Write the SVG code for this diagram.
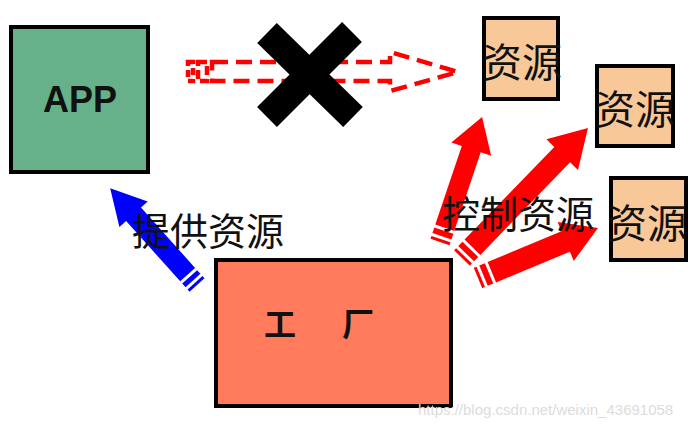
<svg xmlns="http://www.w3.org/2000/svg" width="700" height="428" viewBox="0 0 700 428">
<style>
.box{stroke:#000;stroke-width:4}
.cjk{font-family:"Noto Sans CJK SC","Noto Sans",sans-serif;fill:#111}
.res{font-size:40px;text-anchor:middle}
.lbl{font-size:38px}
.red{fill:#ff0000}
.blue{fill:#0000ff}
</style>
<rect width="700" height="428" fill="#fff"/>
<g id="connectors">
  <g id="dashed-arrow" fill="none" stroke="#ff0000" stroke-width="4.5" stroke-dasharray="16 8">
    <rect x="188" y="62" width="5" height="19" stroke-dasharray="7 4"/>
    <rect x="198" y="62" width="9" height="19" stroke-dasharray="9 4"/>
    <path d="M212,62 H390 V52 L458,72 L390,91 V81 H212 Z"/>
  </g>
  <g id="cross" stroke="#000" stroke-width="28">
    <line x1="267" y1="33" x2="353" y2="117"/>
    <line x1="352" y1="32" x2="267" y2="117"/>
  </g>
  <g id="blue-arrow" class="blue" transform="translate(197,285) rotate(228.1)">
    <rect x="0" y="-10" width="3" height="20"/>
    <rect x="6" y="-10" width="5" height="20"/>
    <path d="M14,-10 H95 V-19 L130,0 L95,19 V10 H14 Z"/>
  </g>
  <g id="red-arrow-1" class="red" transform="translate(440,242) rotate(-71.4)">
    <rect x="0" y="-10" width="3" height="20"/>
    <rect x="6" y="-10" width="6" height="20"/>
    <path d="M15,-10 H98 V-21 L132,0 L98,21 V10 H15 Z"/>
  </g>
  <g id="red-arrow-2" class="red" transform="translate(462,258) rotate(-45.9)">
    <rect x="0" y="-11" width="3" height="22"/>
    <rect x="6" y="-11" width="6" height="22"/>
    <path d="M15,-11 H144 V-22 L181,0 L144,22 V11 H15 Z"/>
  </g>
  <g id="red-arrow-3" class="red" transform="translate(478,278) rotate(-22.6)">
    <rect x="0" y="-11" width="3" height="22"/>
    <rect x="6" y="-11" width="6" height="22"/>
    <path d="M15,-11 H95 V-21 L130,0 L95,21 V11 H15 Z"/>
  </g>
</g>
<g id="app">
  <rect class="box" x="11" y="27" width="137" height="145" fill="#66b18a"/>
  <text x="80" y="112" font-family="Liberation Sans, Arial, sans-serif" font-weight="bold" font-size="36" text-anchor="middle" fill="#111">APP</text>
</g>
<g id="factory">
  <rect class="box" x="216" y="260" width="235" height="146" fill="#ff7b5c"/>
  <text class="cjk" x="280" y="336" font-size="32" font-weight="bold" text-anchor="middle">工</text>
  <text class="cjk" x="358" y="336" font-size="32" font-weight="bold" text-anchor="middle">厂</text>
</g>
<g id="resource-1">
  <rect class="box" x="484" y="18" width="74" height="81" fill="#f9c898"/>
  <text class="cjk res" x="522" y="77">资源</text>
</g>
<g id="resource-2">
  <rect class="box" x="597" y="66" width="76" height="80" fill="#f9c898"/>
  <text class="cjk res" x="635" y="124">资源</text>
</g>
<g id="resource-3">
  <rect class="box" x="611" y="178" width="75" height="82" fill="#f9c898"/>
  <text class="cjk res" x="647" y="238">资源</text>
</g>
<g id="labels">
  <text class="cjk lbl" x="132" y="245">提供资源</text>
  <text class="cjk lbl" x="442" y="228">控制资源</text>
</g>
<text x="418" y="415" font-family="Liberation Sans, Arial, sans-serif" font-size="15" fill="#dcdcdc">https://blog.csdn.net/weixin_43691058</text>
</svg>
